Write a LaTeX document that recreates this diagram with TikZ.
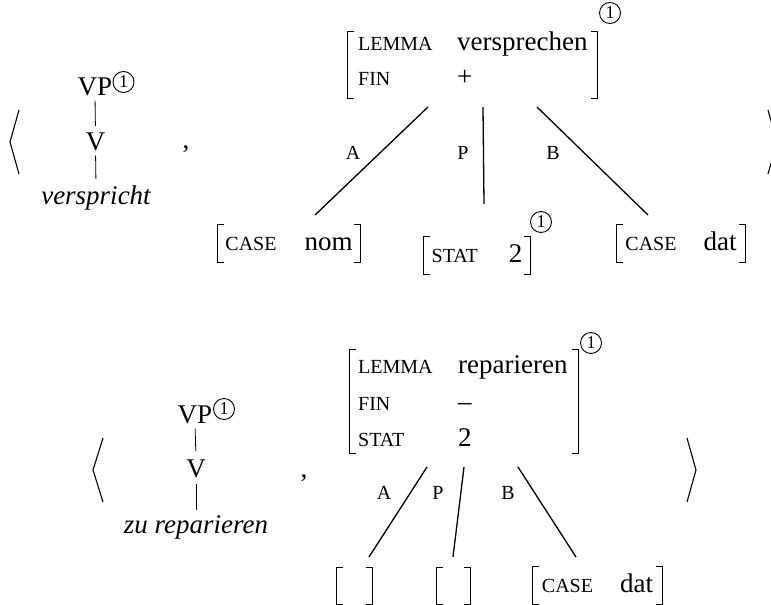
\documentclass[tikz,border=0pt]{standalone}
\usepackage{fontspec}
\setmainfont{Liberation Serif}
\newcommand\fsc[1]{{\fontsize{20}{22}\selectfont #1}}
\newcommand\sqbr[1]{%
  \draw[brkline] ([xshift=6pt]#1.north west) -| (#1.south west) -- ++(6pt,0);
  \draw[brkline] ([xshift=-6pt]#1.north east) -| (#1.south east) -- ++(-6pt,0);}
\begin{document}
\begin{tikzpicture}[x=1pt,y=-1pt,
  every node/.style={inner sep=0pt, font=\fontsize{27}{30}\selectfont},
  sc/.style={font=\fontsize{20}{22}\selectfont},
  itword/.style={font=\fontsize{27}{30}\selectfont\itshape},
  tag/.style={circle, draw, line width=0.9pt, minimum size=21pt, font=\fontsize{18}{18}\selectfont},
  brkline/.style={line width=1.2pt},
  anglebr/.style={line width=1.1pt},
  treeline/.style={line width=0.8pt},
  edge/.style={line width=1.3pt},
  childbox/.style={text height=13pt, text depth=0pt, minimum height=37pt}
]
\useasboundingbox (0,0) rectangle (771,605);

% ---------- upper pair ----------
\draw[anglebr] (19,110) -- (10,142) -- (19,174);
\draw[anglebr] (768,110) -- (777,142) -- (768,174);

\node[anchor=base] (vp1) at (95,95) {VP};
\node[tag] (tg1) at (123.5,82) {1};
\node[anchor=base] (v1) at (95.5,150) {V};
\node[anchor=base, itword] (w1) at (96,204) {verspricht};
\draw[treeline, shorten <=5pt, shorten >=6pt] (vp1.south) -- (v1.north);
\draw[treeline, shorten <=5pt, shorten >=6pt] (v1.south) -- (w1.north);
\node[anchor=base] (cm1) at (186,148) {,};

\node[minimum width=249pt, minimum height=66pt] (avm1) at (472.5,65) {};
\sqbr{avm1}
\node[tag] (tg2) at (610,13) {1};
\node[sc, anchor=base west] (k11) at (358,50) {LEMMA};
\node[anchor=base west] (v11) at (457,50) {versprechen};
\node[sc, anchor=base west] (k12) at (358,85) {FIN};
\node[anchor=base west] (v12) at (457,85) {+};

\node[childbox, minimum width=142pt] (c1a) at (289,243.5) {\fsc{CASE}\hspace{28pt}nom};
\node[childbox, minimum width=106pt, minimum height=38pt] (c1p) at (477,255.5) {\fsc{STAT}\hspace{31pt}2};
\node[childbox, minimum width=128pt] (c1b) at (681,243.5) {\fsc{CASE}\hspace{27pt}dat};
\sqbr{c1a}
\sqbr{c1p}
\sqbr{c1b}
\node[tag] (tg3) at (541,222) {1};

\coordinate (s1a) at (428,107); \coordinate (e1a) at (315,215);
\coordinate (s1p) at (483,107); \coordinate (e1p) at (484,204);
\coordinate (s1b) at (537,107); \coordinate (e1b) at (648,215);
\draw[edge] (s1a) -- (e1a);
\draw[edge] (s1p) -- (e1p);
\draw[edge] (s1b) -- (e1b);
\node[sc] (la1) at (353,153) {A};
\node[sc] (lp1) at (463,153) {P};
\node[sc] (lb1) at (553,153) {B};

% ---------- lower pair ----------
\draw[anglebr] (103,438) -- (93,470) -- (103,502);
\draw[anglebr] (687,438) -- (696,470) -- (687,502);

\node[anchor=base] (vp2) at (195,423) {VP};
\node[tag] (tg4) at (224,409) {1};
\node[anchor=base] (v2) at (196,477) {V};
\node[anchor=base, itword] (w2) at (196,533) {zu reparieren};
\draw[treeline, shorten <=5pt, shorten >=8pt] (vp2.south) -- (v2.north);
\draw[treeline, shorten <=6pt, shorten >=5pt] (v2.south) -- (w2.north);
\node[anchor=base] (cm2) at (304,477) {,};

\node[minimum width=228pt, minimum height=103pt] (avm2) at (464,401.5) {};
\sqbr{avm2}
\node[tag] (tg5) at (591,343) {1};
\node[sc, anchor=base west] (k21) at (358,373) {LEMMA};
\node[anchor=base west] (v21) at (458,373) {reparieren};
\node[sc, anchor=base west] (k22) at (358,410) {FIN};
\node[anchor=base west] (v22) at (458,410) {–};
\node[sc, anchor=base west] (k23) at (358,446) {STAT};
\node[anchor=base west] (v23) at (458,446) {2};

\node[childbox, minimum width=35pt] (c2a) at (354.5,586) {};
\node[childbox, minimum width=33pt] (c2p) at (453.5,586) {};
\node[childbox, minimum width=129pt] (c2b) at (597.5,585.5) {\fsc{CASE}\hspace{27pt}dat};
\sqbr{c2a}
\sqbr{c2p}
\sqbr{c2b}

\coordinate (s2a) at (427,467); \coordinate (e2a) at (369,557);
\coordinate (s2p) at (464,467); \coordinate (e2p) at (453,557);
\coordinate (s2b) at (518,467); \coordinate (e2b) at (576,557);
\draw[edge] (s2a) -- (e2a);
\draw[edge] (s2p) -- (e2p);
\draw[edge] (s2b) -- (e2b);
\node[sc] (la2) at (384,493) {A};
\node[sc] (lp2) at (438,493) {P};
\node[sc] (lb2) at (508,493) {B};
\end{tikzpicture}
\end{document}
